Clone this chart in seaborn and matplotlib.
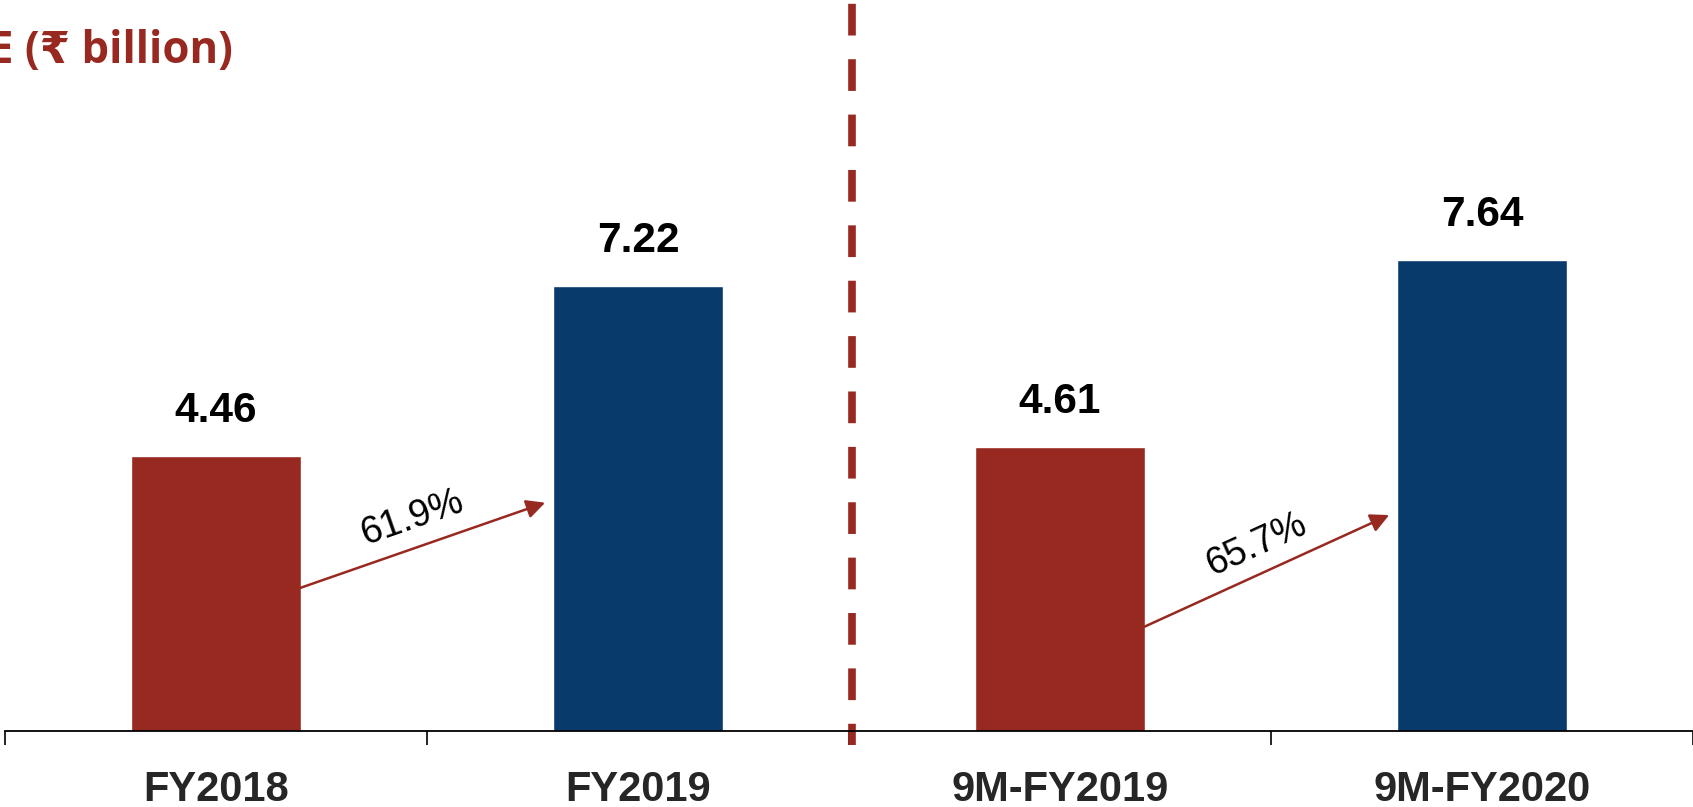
import math
import matplotlib
matplotlib.use("Agg")
import matplotlib.pyplot as plt
import seaborn as sns

# values
categories = ["FY2018", "FY2019", "9M-FY2019", "9M-FY2020"]
values = [4.46, 7.22, 4.61, 7.64]
growth_labels = ["61.9%", "65.7%"]
arrow_start_y = [2.32, 1.69]
arrow_end_y = [3.70, 3.50]
title = "E (₹ billion)"

RED = "#982920"
BLUE = "#093A6C"
bar_colors = [RED, BLUE, RED, BLUE]

sns.set_style("white")
plt.rcParams["font.family"] = ["Liberation Sans", "DejaVu Sans"]

W, H = 1693, 807
fig = plt.figure(figsize=(W / 100, H / 100), dpi=100)
ax = fig.add_axes([5 / W, (H - 731) / H, (W - 5) / W, 731 / H])

sns.barplot(x=categories, y=values, hue=categories, palette=bar_colors,
            width=0.405, saturation=1, legend=False, ax=ax)

ax.set_xlim(-0.5, 3.5)
ax.set_ylim(0, 731 / 61.7)

# value labels
for i, v in enumerate(values):
    ax.annotate(f"{v:.2f}", xy=(i, v), xytext=(0, 24), textcoords="offset points",
                ha="center", va="baseline", fontsize=30.5, fontweight="bold", color="black")

# growth arrows between pairs
half = 0.2
for k, lab in enumerate(growth_labels):
    i0 = 2 * k
    x0, x1 = i0 + half, i0 + 1 - half - 0.02
    y0, y1 = arrow_start_y[k], arrow_end_y[k]
    ax.annotate("", xy=(x1, y1), xytext=(x0, y0),
                arrowprops=dict(arrowstyle="-|>", color=RED, lw=1.8,
                                mutation_scale=28, shrinkA=0, shrinkB=0))
    p0 = ax.transData.transform((x0, y0))
    p1 = ax.transData.transform((x1, y1))
    ang = math.degrees(math.atan2(p1[1] - p0[1], p1[0] - p0[0]))
    xm = i0 + 0.5 - 0.035
    ym = y0 + (xm - x0) / (x1 - x0) * (y1 - y0)
    ax.annotate(lab, xy=(xm, ym), xytext=(0, 22), textcoords="offset points",
                ha="center", va="center", rotation=ang, fontsize=27, color="black")

# dashed separator, drawn top-down so the pattern starts at the top
ax.axvline(1.507, ymin=1.0, ymax=-0.019, color=RED, lw=5.5,
           linestyle=(6.75, (4.15, 3.1)), clip_on=False)

# axis styling
for s in ["left", "right", "top"]:
    ax.spines[s].set_visible(False)
ax.spines["bottom"].set_linewidth(1.3)
ax.spines["bottom"].set_color("black")
ax.set_yticks([])
ax.set_xticks(range(len(categories)))
ax.set_xticklabels(categories, fontsize=30, fontweight="bold")
ax.set_xticks([-0.5, 0.5, 1.5, 2.5, 3.5], minor=True)
ax.tick_params(axis="x", which="major", length=0, pad=28)
ax.tick_params(axis="x", which="minor", bottom=True, length=10, width=1.2,
               color="black", direction="out")
ax.set_xlabel("")
ax.set_ylabel("")

fig.text(-11 / W, 1 - 51 / H, title, ha="left", va="center", fontsize=31.5,
         fontweight="bold", color=RED, family=["Open Sans", "DejaVu Sans"])

fig.savefig("out.png", dpi=100)
